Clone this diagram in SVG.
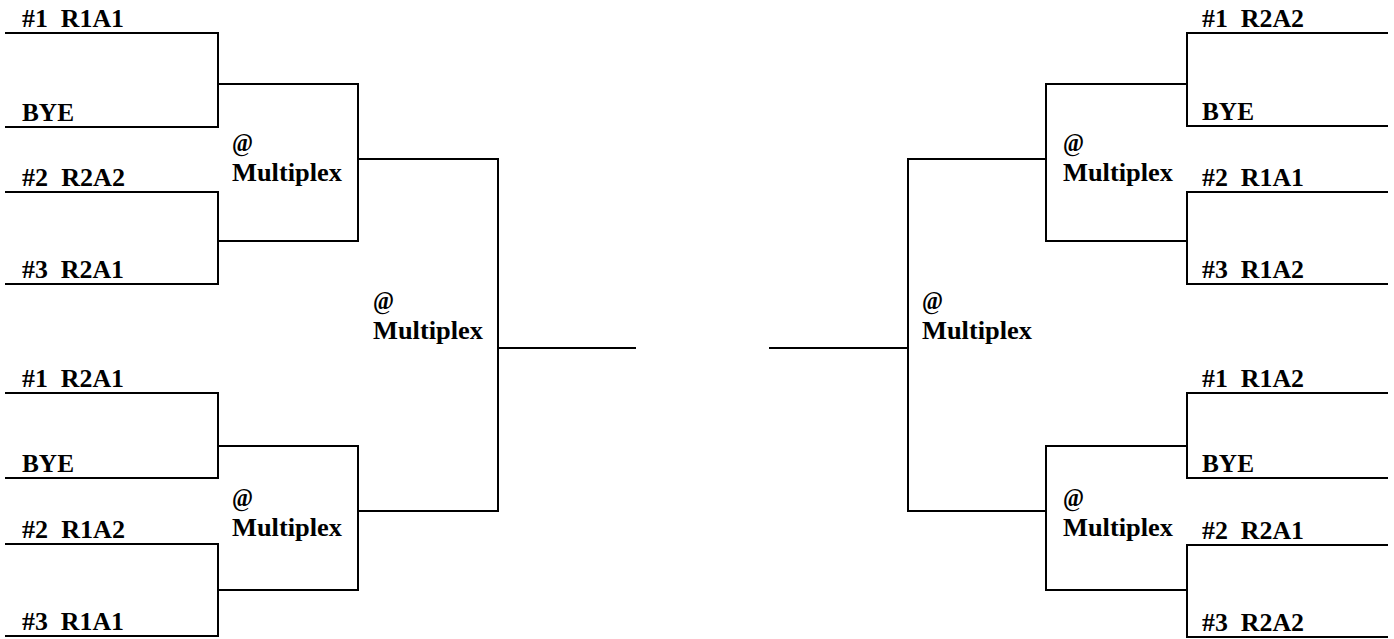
<svg xmlns="http://www.w3.org/2000/svg" width="1394" height="639" viewBox="0 0 1394 639">
<style>
.c{fill:none;stroke:#000;stroke-width:2;stroke-linejoin:miter;stroke-linecap:square}
.t{font-family:'Liberation Serif','Times New Roman',serif;font-weight:700;font-size:26px;fill:#000;white-space:pre}
</style>
<rect width="1394" height="639" fill="#fff"/>
<g id="connectors">
<path class="c" d="M6 33 H218 V127 H6"/>
<path class="c" d="M6 192 H218 V284 H6"/>
<path class="c" d="M218 84 H358 V241 H218"/>
<path class="c" d="M6 393 H218 V478 H6"/>
<path class="c" d="M6 544 H218 V636 H6"/>
<path class="c" d="M218 446 H358 V590 H218"/>
<path class="c" d="M358 159 H498 V511 H358"/>
<path class="c" d="M498 348 H635"/>
<path class="c" d="M1387 33 H1187 V126 H1387"/>
<path class="c" d="M1387 192 H1187 V284 H1387"/>
<path class="c" d="M1187 84 H1046 V241 H1187"/>
<path class="c" d="M1387 393 H1187 V478 H1387"/>
<path class="c" d="M1387 545 H1187 V637 H1387"/>
<path class="c" d="M1187 446 H1046 V590 H1187"/>
<path class="c" d="M1046 159 H908 V511 H1046"/>
<path class="c" d="M908 348 H770"/>
</g>
<g class="t">
<g id="l1"><text xml:space="preserve" x="22" y="27" textLength="102" lengthAdjust="spacingAndGlyphs">#1  R1A1</text></g>
<g id="l2"><text x="22" y="121" textLength="52" lengthAdjust="spacingAndGlyphs">BYE</text></g>
<g id="l3"><text xml:space="preserve" x="22" y="186" textLength="103" lengthAdjust="spacingAndGlyphs">#2  R2A2</text></g>
<g id="l4"><text xml:space="preserve" x="22" y="278" textLength="102" lengthAdjust="spacingAndGlyphs">#3  R2A1</text></g>
<g id="l5"><text xml:space="preserve" x="22" y="387" textLength="102" lengthAdjust="spacingAndGlyphs">#1  R2A1</text></g>
<g id="l6"><text x="22" y="472" textLength="52" lengthAdjust="spacingAndGlyphs">BYE</text></g>
<g id="l7"><text xml:space="preserve" x="22" y="538" textLength="103" lengthAdjust="spacingAndGlyphs">#2  R1A2</text></g>
<g id="l8"><text xml:space="preserve" x="22" y="630" textLength="102" lengthAdjust="spacingAndGlyphs">#3  R1A1</text></g>
<g id="m1"><text x="232" y="151" textLength="21" lengthAdjust="spacingAndGlyphs">@</text><text x="232" y="181" textLength="110" lengthAdjust="spacingAndGlyphs">Multiplex</text></g>
<g id="m2"><text x="232" y="506" textLength="21" lengthAdjust="spacingAndGlyphs">@</text><text x="232" y="536" textLength="110" lengthAdjust="spacingAndGlyphs">Multiplex</text></g>
<g id="m3"><text x="373" y="309" textLength="21" lengthAdjust="spacingAndGlyphs">@</text><text x="373" y="339" textLength="110" lengthAdjust="spacingAndGlyphs">Multiplex</text></g>
<g id="r1"><text xml:space="preserve" x="1202" y="27" textLength="102" lengthAdjust="spacingAndGlyphs">#1  R2A2</text></g>
<g id="r2"><text x="1202" y="120" textLength="52" lengthAdjust="spacingAndGlyphs">BYE</text></g>
<g id="r3"><text xml:space="preserve" x="1202" y="186" textLength="102" lengthAdjust="spacingAndGlyphs">#2  R1A1</text></g>
<g id="r4"><text xml:space="preserve" x="1202" y="278" textLength="102" lengthAdjust="spacingAndGlyphs">#3  R1A2</text></g>
<g id="r5"><text xml:space="preserve" x="1202" y="387" textLength="102" lengthAdjust="spacingAndGlyphs">#1  R1A2</text></g>
<g id="r6"><text x="1202" y="472" textLength="52" lengthAdjust="spacingAndGlyphs">BYE</text></g>
<g id="r7"><text xml:space="preserve" x="1202" y="539" textLength="102" lengthAdjust="spacingAndGlyphs">#2  R2A1</text></g>
<g id="r8"><text xml:space="preserve" x="1202" y="631" textLength="102" lengthAdjust="spacingAndGlyphs">#3  R2A2</text></g>
<g id="m4"><text x="1063" y="151" textLength="21" lengthAdjust="spacingAndGlyphs">@</text><text x="1063" y="181" textLength="110" lengthAdjust="spacingAndGlyphs">Multiplex</text></g>
<g id="m5"><text x="1063" y="506" textLength="21" lengthAdjust="spacingAndGlyphs">@</text><text x="1063" y="536" textLength="110" lengthAdjust="spacingAndGlyphs">Multiplex</text></g>
<g id="m6"><text x="922" y="309" textLength="21" lengthAdjust="spacingAndGlyphs">@</text><text x="922" y="339" textLength="110" lengthAdjust="spacingAndGlyphs">Multiplex</text></g>
</g>
</svg>
